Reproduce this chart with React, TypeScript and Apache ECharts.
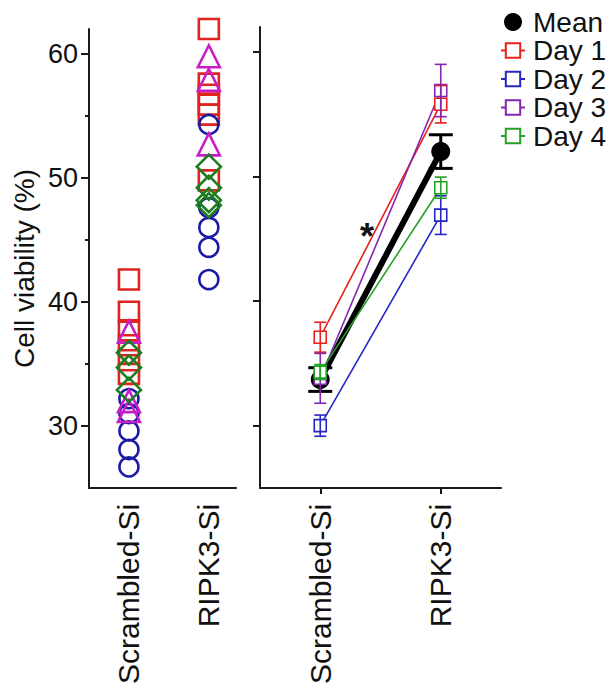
import React, { useEffect, useRef } from 'react';
import * as echarts from 'echarts';

const categories = ['Scrambled-Si', 'RIPK3-Si'];
const yTicks = [30, 40, 50, 60];
const yMinorTicks = [35, 45, 55];
const legendNames = ['Mean', 'Day 1', 'Day 2', 'Day 3', 'Day 4'];

// Left panel: individual replicate values
const day1Scrambled = [41.8, 39.2, 37.7, 36.5, 35.3, 34.2];
const day1Ripk3 = [62.0, 57.6, 56.7, 55.9, 55.1, 49.8];
const day2Scrambled = [32.2, 31.0, 29.6, 28.1, 26.7];
const day2Ripk3 = [54.3, 47.6, 46.0, 44.4, 41.8];
const day3Scrambled = [37.6, 32.0, 31.2];
const day3Ripk3 = [59.8, 57.9, 52.7];
const day4Scrambled = [35.9, 34.7, 32.9];
const day4Ripk3 = [50.9, 49.2, 48.2, 47.8];

// Right panel: per-day means and errors, and overall mean
const meanValues = [33.7, 52.0];
const meanErrors = [0.95, 1.35];
const day1Means = [37.1, 55.8];
const day1Errors = [1.2, 1.5];
const day2Means = [30.0, 46.9];
const day2Errors = [0.85, 1.55];
const day3Means = [33.8, 56.9];
const day3Errors = [2.0, 2.1];
const day4Means = [34.3, 49.1];
const day4Errors = [0.6, 0.85];

const FONT = 'Liberation Sans, Arial, Helvetica, sans-serif';
const AXIS = '#1a1a1a';

const leftColors = { d1: '#e0231f', d2: '#1a1aa6', d3: '#c81ec8', d4: '#1e7d1e' };
const rightColors = { d1: '#e8201c', d2: '#2626c4', d3: '#8326b0', d4: '#26a026' };

function scatter(name: string, scr: number[], rip: number[], symbol: string, size: number, color: string) {
  return {
    type: 'scatter',
    name,
    xAxisIndex: 0,
    yAxisIndex: 0,
    symbol,
    symbolSize: size,
    itemStyle: { color: 'rgba(0,0,0,0)', borderColor: color, borderWidth: 2.6, opacity: 1 },
    data: [...scr.map((v) => [1, v]), ...rip.map((v) => [2, v])],
    silent: true,
  };
}

function errorBars(name: string, means: number[], errs: number[], color: string, capHalf: number, width: number, z: number) {
  return {
    type: 'custom',
    name,
    xAxisIndex: 1,
    yAxisIndex: 2,
    z,
    silent: true,
    data: means.map((m, i) => [i, m - errs[i], m + errs[i]]),
    encode: { x: 0, y: [1, 2] },
    renderItem: (params: any, api: any) => {
      const lo = api.coord([api.value(0), api.value(1)]);
      const hi = api.coord([api.value(0), api.value(2)]);
      const st = { stroke: color, lineWidth: width };
      return {
        type: 'group',
        children: [
          { type: 'line', shape: { x1: lo[0], y1: lo[1], x2: hi[0], y2: hi[1] }, style: st },
          { type: 'line', shape: { x1: lo[0] - capHalf, y1: lo[1], x2: lo[0] + capHalf, y2: lo[1] }, style: st },
          { type: 'line', shape: { x1: hi[0] - capHalf, y1: hi[1], x2: hi[0] + capHalf, y2: hi[1] }, style: st },
        ],
      };
    },
  };
}

function dayLine(name: string, means: number[], color: string, z: number) {
  return {
    type: 'line',
    name,
    xAxisIndex: 1,
    yAxisIndex: 2,
    z,
    data: means,
    symbol: 'rect',
    symbolSize: 12,
    lineStyle: { color, width: 1.6 },
    itemStyle: { color: '#ffffff', borderColor: color, borderWidth: 1.6 },
    silent: true,
  };
}

export default function App() {
  const ref = useRef<HTMLDivElement>(null);
  useEffect(() => {
    if (!ref.current) return;
    const chart = echarts.init(ref.current, null, { renderer: 'svg' });
    const option: any = {
      animation: false,
      backgroundColor: '#ffffff',
      textStyle: { fontFamily: FONT },
      grid: [
        { left: 89, top: 29, width: 147, height: 469 },
        { left: 260, top: 27, width: 241, height: 470 },
      ],
      xAxis: [
        {
          type: 'value',
          gridIndex: 0,
          min: 0.5,
          max: 2.34,
          interval: 0.5,
          splitLine: { show: false },
          axisTick: { show: false },
          axisLine: { show: true, onZero: false, lineStyle: { color: AXIS, width: 2 } },
          axisLabel: {
            rotate: 90,
            margin: 16,
            fontSize: 30,
            color: '#111',
            fontFamily: FONT,
            showMaxLabel: false,
            formatter: (v: number) => (v === 1 ? categories[0] : v === 2 ? categories[1] : ''),
          },
        },
        {
          type: 'category',
          gridIndex: 1,
          data: categories,
          boundaryGap: true,
          axisLine: { show: true, lineStyle: { color: AXIS, width: 2 } },
          axisTick: { show: true, alignWithLabel: true, length: 6, lineStyle: { color: AXIS, width: 2 } },
          axisLabel: { rotate: 90, margin: 16, fontSize: 30, color: '#111', fontFamily: FONT },
        },
      ],
      yAxis: [
        {
          type: 'value',
          gridIndex: 0,
          position: 'left',
          min: 25,
          max: 62,
          name: 'Cell viability (%)',
          nameLocation: 'middle',
          nameGap: 51,
          nameTextStyle: { fontSize: 28, color: '#111', fontFamily: FONT, padding: [0, 20, 0, 0] },
          splitLine: { show: false },
          axisLine: { show: true, lineStyle: { color: AXIS, width: 2 } },
          axisTick: { show: true, length: 8, customValues: yTicks, lineStyle: { color: AXIS, width: 2 } },
          axisLabel: { customValues: yTicks, fontSize: 27, color: '#111', margin: 11, fontFamily: FONT },
        },
        {
          type: 'value',
          gridIndex: 0,
          position: 'left',
          min: 25,
          max: 62,
          splitLine: { show: false },
          axisLine: { show: false },
          axisLabel: { show: false },
          axisTick: { show: true, length: 4, customValues: yMinorTicks, lineStyle: { color: AXIS, width: 2 } },
        },
        {
          type: 'value',
          gridIndex: 1,
          position: 'left',
          min: 25,
          max: 62,
          splitLine: { show: false },
          axisLine: { show: true, lineStyle: { color: AXIS, width: 2 } },
          axisLabel: { show: false },
          axisTick: { show: true, length: 7, customValues: yTicks, lineStyle: { color: AXIS, width: 2 } },
        },
      ],
      legend: {
        orient: 'vertical',
        left: 495,
        top: 3,
        itemWidth: 24,
        itemHeight: 18,
        itemGap: 0.5,
        textStyle: { fontSize: 28, color: '#111', fontFamily: FONT, padding: [0, 0, 0, 3] },
        data: [{ name: legendNames[0], icon: 'circle', itemStyle: { color: '#000' } }, ...legendNames.slice(1)],
        selectedMode: false,
      },
      graphic: [
        {
          type: 'text',
          left: 360,
          top: 218,
          style: { text: '*', font: 'bold 36px ' + FONT, fill: '#111' },
        },
      ],
      series: [
        scatter('Day 1 replicates', day1Scrambled, day1Ripk3, 'rect', 20, leftColors.d1),
        scatter('Day 2 replicates', day2Scrambled, day2Ripk3, 'circle', 19, leftColors.d2),
        scatter('Day 3 replicates', day3Scrambled, day3Ripk3, 'triangle', 22, leftColors.d3),
        scatter('Day 4 replicates', day4Scrambled, day4Ripk3, 'diamond', 24, leftColors.d4),
        {
          type: 'line',
          name: 'Mean',
          xAxisIndex: 1,
          yAxisIndex: 2,
          z: 2,
          data: meanValues,
          symbol: 'circle',
          symbolSize: 19,
          lineStyle: { color: '#000', width: 6 },
          itemStyle: { color: '#000' },
          silent: true,
        },
        errorBars('Mean error', meanValues, meanErrors, '#000', 12, 3, 3),
        dayLine('Day 1', day1Means, rightColors.d1, 4),
        dayLine('Day 2', day2Means, rightColors.d2, 4),
        dayLine('Day 3', day3Means, rightColors.d3, 4),
        dayLine('Day 4', day4Means, rightColors.d4, 4),
        errorBars('Day 1 error', day1Means, day1Errors, rightColors.d1, 6, 1.6, 5),
        errorBars('Day 2 error', day2Means, day2Errors, rightColors.d2, 6, 1.6, 5),
        errorBars('Day 3 error', day3Means, day3Errors, rightColors.d3, 6, 1.6, 5),
        errorBars('Day 4 error', day4Means, day4Errors, rightColors.d4, 6, 1.6, 5),
      ],
    };
    chart.setOption(option);
    return () => chart.dispose();
  }, []);
  return <div ref={ref} style={{ position: 'fixed', left: 0, top: 0, width: 610, height: 687 }} />;
}
